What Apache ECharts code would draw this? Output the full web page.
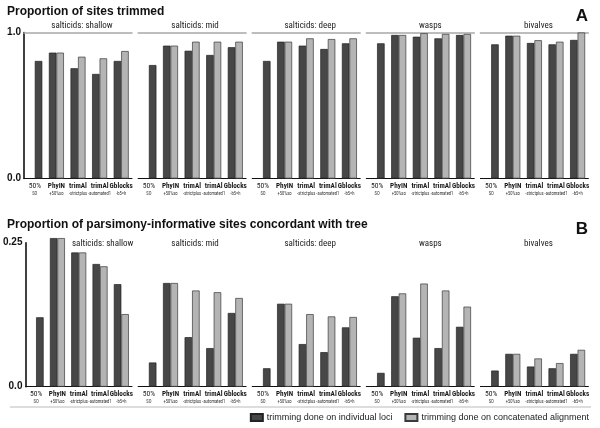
<!DOCTYPE html>
<html><head><meta charset="utf-8">
<script src="https://cdn.jsdelivr.net/npm/echarts@6/dist/echarts.min.js"></script>
<style>html,body{margin:0;padding:0;background:#fff}#c{width:600px;height:428px}</style>
</head><body><div id="c"></div>
<script>
// ---- data ----
const categories = ['50%', 'PhyIN', 'trimAl', 'trimAl', 'Gblocks'];
const subLabels = ['SO', '+50%so', '-strictplus', '-automated1', '-b5=h'];
const groups = ['salticids: shallow', 'salticids: mid', 'salticids: deep', 'wasps', 'bivalves'];
const yTicksA = ['0.0', '1.0'];
const yTicksB = ['0.0', '0.25'];
const seriesNames = ['trimming done on individual loci', 'trimming done on concatenated alignment', '50% SO (untrimmed)'];

// Panel A: proportion of sites trimmed
const trimBaseline = [0.805, 0.777, 0.805, 0.926, 0.919];           // 50% SO
const trimLoci = [                                                   // PhyIN, trimAl strictplus, trimAl automated1, Gblocks
  [null, 0.862, 0.755, 0.716, 0.805],
  [null, 0.91, 0.875, 0.846, 0.899],
  [null, 0.937, 0.91, 0.887, 0.926],
  [null, 0.983, 0.971, 0.96, 0.983],
  [null, 0.978, 0.928, 0.919, 0.949]
];
const trimConcat = [
  [null, 0.862, 0.834, 0.823, 0.873],
  [null, 0.91, 0.937, 0.937, 0.937],
  [null, 0.937, 0.96, 0.955, 0.96],
  [null, 0.983, 0.995, 0.99, 0.99],
  [null, 0.978, 0.947, 0.937, 1.0]
];
// Panel B: proportion of parsimony-informative sites concordant with tree
const concBaseline = [0.1205, 0.042, 0.032, 0.024, 0.028];
const concLoci = [
  [null, 0.258, 0.233, 0.213, 0.178],
  [null, 0.18, 0.086, 0.067, 0.128],
  [null, 0.144, 0.074, 0.06, 0.103],
  [null, 0.157, 0.085, 0.067, 0.104],
  [null, 0.057, 0.035, 0.032, 0.057]
];
const concConcat = [
  [null, 0.258, 0.233, 0.209, 0.126],
  [null, 0.18, 0.167, 0.164, 0.154],
  [null, 0.144, 0.126, 0.122, 0.121],
  [null, 0.162, 0.179, 0.167, 0.139],
  [null, 0.057, 0.049, 0.041, 0.064]
];

// ---- layout / style ----
const NARROW = "'Liberation Sans Narrow','Roboto Condensed',Lato,sans-serif";
const SANS = "'Liberation Sans',Arial,sans-serif";
const DARK = '#474747', LIGHT = '#b4b4b4';
const panels = [
  {top: 32.5, height: 146, max: 1, ticks: yTicksA, base: trimBaseline, loci: trimLoci, concat: trimConcat, bracket: true,
   titleDx: [4, 3, 4, 10, 4]},
  {top: 242.7, height: 144, max: 0.25, ticks: yTicksB, base: concBaseline, loci: concLoci, concat: concConcat, bracket: false,
   titleDx: [24, 3, 4, 10, 4]}
];
const gLeft = 24, gStep = 114.1, gWidth = 108;

const grid = [], xAxis = [], yAxis = [], series = [];
panels.forEach((p, pi) => {
  groups.forEach((gname, gi) => {
    const idx = pi * 5 + gi;
    grid.push({left: gLeft + gStep * gi, width: gWidth, top: p.top, height: p.height});
    xAxis.push({
      type: 'category', gridIndex: idx, data: categories, position: 'bottom',
      axisLine: {show: true, lineStyle: {color: '#111', width: 1}},
      axisTick: {show: false},
      axisLabel: {
        interval: 0, margin: 3, hideOverlap: false,
        formatter: (v, i) => '{' + (i === 0 ? 'n' : 'm') + '|' + v + '}\n{s|' + subLabels[i] + '}',
        rich: {
          m: {fontFamily: NARROW, fontWeight: 'bold', fontSize: 7.2, lineHeight: 9, color: '#1a1a1a'},
          n: {fontFamily: NARROW, fontWeight: 'normal', fontSize: 7.6, lineHeight: 9, color: '#1a1a1a'},
          s: {fontFamily: NARROW, fontSize: 4.6, lineHeight: 7, color: '#333'}
        }
      }
    });
    xAxis.push({
      type: 'category', gridIndex: idx, data: categories, position: 'top',
      axisLine: {show: p.bracket, lineStyle: {color: '#a8a8a8', width: 1.5}},
      axisTick: {show: false}, axisLabel: {show: false},
      name: gname, nameLocation: 'middle', nameGap: p.bracket ? 2 : -6,
      nameTextStyle: {fontFamily: NARROW, fontSize: 9, color: '#222', verticalAlign: 'bottom',
        padding: [0, 0, 0, 2 * p.titleDx[gi]]}
    });
    yAxis.push({
      type: 'value', gridIndex: idx, min: 0, max: p.max, interval: p.max, show: gi === 0,
      axisLine: {show: true, lineStyle: {color: '#111', width: 1.6}},
      axisTick: {show: false}, splitLine: {show: false},
      axisLabel: {margin: 3, fontFamily: SANS, fontWeight: 'bold', fontSize: 10, color: '#111',
        formatter: v => p.ticks[v === 0 ? 0 : 1]}
    });
    const common = {type: 'bar', xAxisIndex: idx * 2, yAxisIndex: idx, barWidth: 7.5, barGap: '0%', clip: false,
      silent: true, animation: false};
    series.push(Object.assign({}, common, {
      name: seriesNames[0], data: p.loci[gi],
      itemStyle: {color: DARK, borderColor: '#222', borderWidth: 0.7}
    }));
    series.push(Object.assign({}, common, {
      name: seriesNames[1], stack: 'c' + idx, data: p.concat[gi],
      itemStyle: {color: LIGHT, borderColor: '#3a3a3a', borderWidth: 0.7}
    }));
    series.push(Object.assign({}, common, {
      name: seriesNames[2], stack: 'c' + idx,
      data: categories.map((c, ci) => ci === 0 ? p.base[gi] : null),
      itemStyle: {color: DARK, borderColor: '#222', borderWidth: 0.7}
    }));
  });
});

const chart = echarts.init(document.getElementById('c'), null, {renderer: 'canvas'});
chart.setOption({
  animation: false,
  backgroundColor: '#fff',
  title: [
    {text: 'Proportion of sites trimmed', left: 7, top: 6, padding: 0,
     textStyle: {fontFamily: SANS, fontSize: 12, fontWeight: 'bold', color: '#111'}},
    {text: 'Proportion of parsimony-informative sites concordant with tree', left: 7, top: 219, padding: 0,
     textStyle: {fontFamily: SANS, fontSize: 12, fontWeight: 'bold', color: '#111'}},
    {text: 'A', right: 12, top: 8, padding: 0, textStyle: {fontFamily: SANS, fontSize: 17, fontWeight: 'bold', color: '#111'}},
    {text: 'B', right: 12, top: 221, padding: 0, textStyle: {fontFamily: SANS, fontSize: 17, fontWeight: 'bold', color: '#111'}}
  ],
  legend: {
    data: [seriesNames[0], seriesNames[1]], right: 11, top: 413, padding: 0,
    itemWidth: 12, itemHeight: 7, itemGap: 12, icon: 'rect', selectedMode: false,
    textStyle: {fontFamily: SANS, fontSize: 9, color: '#222', padding: [0, 0, 0, -1]}
  },
  graphic: [{type: 'line', shape: {x1: 10, y1: 407, x2: 591, y2: 407}, style: {stroke: '#bbb', lineWidth: 1}, silent: true}],
  grid, xAxis, yAxis, series
});
</script></body></html>
